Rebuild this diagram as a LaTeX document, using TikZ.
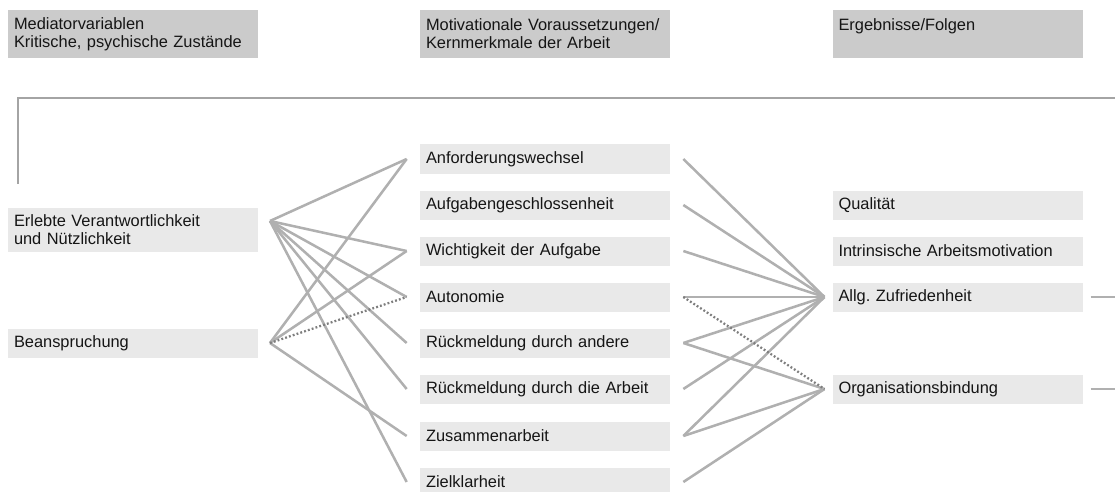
\documentclass[tikz,border=0pt]{standalone}
\usepackage{fontspec}
\setmainfont{Liberation Sans}
\frenchspacing
\definecolor{headgray}{HTML}{CBCBCB}
\definecolor{boxgray}{HTML}{E9E9E9}
\definecolor{linegray}{HTML}{B0B0B0}
\definecolor{framegray}{HTML}{A4A4A4}
\definecolor{dotgray}{HTML}{7E7E7E}
\definecolor{textgray}{HTML}{151515}
\tikzset{
	head/.style={fill=headgray,text=textgray,minimum width=187.5pt,minimum height=36pt,text width=178.5pt,inner xsep=4.5pt,align=left,font=\fontsize{12.3}{13.5}\selectfont},
	item/.style={fill=boxgray,text=textgray,minimum width=187.5pt,minimum height=21.75pt,text width=178.5pt,inner xsep=4.5pt,inner ysep=2pt,align=left,font=\fontsize{12.3}{13.5}\selectfont},
	link/.style={draw=linegray,line width=1.9pt},
	dotlink/.style={draw=dotgray,line width=1.7pt,dash pattern=on 1.4pt off 1.6pt}
}

\begin{document}
\begin{tikzpicture}[x=0.75pt,y=-0.75pt]
	\useasboundingbox (0,0) rectangle (1115,492);
	%HEADERS
	\node[head] (hMed) at (133,34) {Mediatorvariablen\\Kritische, psychische Zustände};
	\node[head] (hMot) at (545,34) {Motivationale Voraussetzungen/\\Kernmerkmale der Arbeit};
	\node[head] (hErg) at (957.5,34) {Ergebnisse/Folgen\\\mbox{}};
	
	%FEEDBACK FRAME
	\coordinate (fbA) at (18,184);
	\coordinate (fbB) at (18,98);
	\coordinate (fbC) at (1115,98);
	\draw[link,draw=framegray,line width=2pt] (fbA)--(fbB)--(fbC);
	
	%LEFT COLUMN
	\node[item,outer xsep=9pt,minimum height=33pt] (erl) at (133,230) {Erlebte Verantwortlichkeit\\und Nützlichkeit};
	\node[item,outer xsep=9pt] (bean) at (133,343) {Beanspruchung};
	
	%MIDDLE COLUMN
	\node[item,outer xsep=10pt] (anf) at (545,159) {Anforderungswechsel};
	\node[item,outer xsep=10pt] (aufg) at (545,205) {Aufgabengeschlossenheit};
	\node[item,outer xsep=10pt] (wicht) at (545,251) {Wichtigkeit der Aufgabe};
	\node[item,outer xsep=10pt] (auto) at (545,297) {Autonomie};
	\node[item,outer xsep=10pt] (rueckA) at (545,343) {Rückmeldung durch andere};
	\node[item,outer xsep=10pt] (rueckB) at (545,389) {Rückmeldung durch die Arbeit};
	\node[item,outer xsep=10pt] (zus) at (545,436) {Zusammenarbeit};
	\node[item,outer xsep=10pt] (ziel) at (545,482) {Zielklarheit};
	
	%RIGHT COLUMN
	\node[item,outer xsep=6pt] (qual) at (957.5,205) {Qualität};
	\node[item,outer xsep=6pt] (intr) at (957.5,251) {Intrinsische Arbeitsmotivation};
	\node[item,outer xsep=6pt] (zuf) at (957.5,297) {Allg. Zufriedenheit};
	\node[item,outer xsep=6pt] (org) at (957.5,389) {Organisationsbindung};
	
	%LEFT LINKS
	\draw[link] ([yshift=6.75pt]erl.east)--(anf.west);		\draw[link] ([yshift=6.75pt]erl.east)--(wicht.west);
	\draw[link] ([yshift=6.75pt]erl.east)--(auto.west);		\draw[link] ([yshift=6.75pt]erl.east)--(rueckA.west);
	\draw[link] ([yshift=6.75pt]erl.east)--(rueckB.west);	\draw[link] ([yshift=6.75pt]erl.east)--(ziel.west);
	%
	\draw[link] (bean.east)--(anf.west);		\draw[link] (bean.east)--(wicht.west);
	\draw[link] (bean.east)--(zus.west);
	\draw[dotlink] (bean.east)--(auto.west);
	
	%RIGHT LINKS
	\draw[link] (anf.east)--(zuf.west);		\draw[link] (aufg.east)--(zuf.west);
	\draw[link] (wicht.east)--(zuf.west);		\draw[link] (auto.east)--(zuf.west);
	\draw[link] (rueckA.east)--(zuf.west);	\draw[link] (rueckB.east)--(zuf.west);
	\draw[link] (zus.east)--(zuf.west);
	%
	\draw[link] (rueckA.east)--(org.west);	\draw[link] (zus.east)--(org.west);
	\draw[link] (ziel.east)--(org.west);
	\draw[dotlink] (auto.east)--(org.west);
	
	%OUTGOING
	\coordinate (zufR) at (1115,297);
	\coordinate (orgR) at (1115,389);
	\draw[link] (zuf.east)--(zufR);
	\draw[link] (org.east)--(orgR);
\end{tikzpicture}
\end{document}
